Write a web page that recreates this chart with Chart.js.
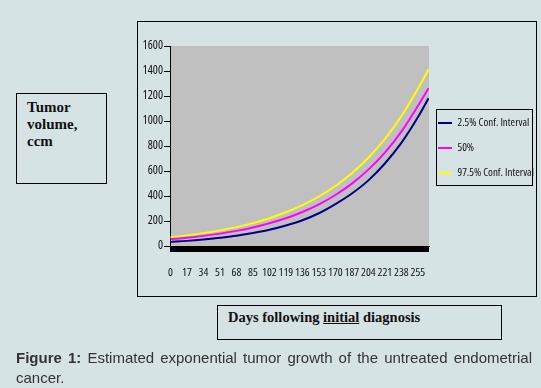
<!DOCTYPE html>
<html><head><meta charset="utf-8">
<script src="https://cdn.jsdelivr.net/npm/chart.js@4"></script>
<style>
html,body{margin:0;padding:0;}
body{width:541px;height:388px;background:#d5e3e4;position:relative;overflow:hidden;font-family:"Liberation Sans",Arial,sans-serif;}
.box{position:absolute;border:1px solid #000;box-sizing:border-box;}
#frame{left:137px;top:21px;width:400px;height:276px;}
#ylab{left:16px;top:93px;width:91px;height:91px;border-width:1.5px;font:bold 15px "Liberation Serif","Times New Roman",serif;line-height:17px;padding:5px 0 0 10px;color:#111;}
#xlab{left:217px;top:305px;width:285px;height:35px;border-width:1.5px;font:bold 14.5px "Liberation Serif","Times New Roman",serif;padding:3px 0 0 10px;color:#111;white-space:nowrap;}
#legbox{left:436px;top:109px;width:97px;height:77px;}
.cap{position:absolute;left:16px;width:516px;font-size:15px;line-height:20px;color:#333;white-space:nowrap;}
#cap1{top:348px;text-align:justify;text-align-last:justify;}
#cap2{top:368px;}
canvas{position:absolute;left:0;top:0;}
</style></head>
<body>
<div id="frame" class="box"></div>
<div id="ylab" class="box">Tumor<br>volume,<br>ccm</div>
<div id="xlab" class="box">Days following <u>initial</u> diagnosis</div>
<div id="legbox" class="box"></div>
<canvas id="c" width="541" height="388"></canvas>
<div id="cap1" class="cap" style="white-space:normal"><b>Figure 1:</b> Estimated exponential tumor growth of the untreated endometrial</div>
<div id="cap2" class="cap">cancer.</div>
<script>
// ---- data ----
const days   = [0, 17, 34, 51, 68, 85, 102, 119, 136, 153, 170, 187, 204, 221, 238, 255, 266];
const lower  = [33, 41, 52, 66, 82, 104, 130, 164, 206, 262, 335, 420, 525, 660, 825, 1030, 1182];
const median = [54, 66, 81, 99, 121, 148, 182, 222, 272, 333, 408, 499, 611, 747, 915, 1120, 1262];
const upper  = [70, 85, 103, 125, 151, 183, 222, 270, 327, 396, 480, 582, 706, 856, 1038, 1258, 1412];
const seriesNames = ['2.5% Conf. Interval', '50%', '97.5% Conf. Interval'];
const xTickLabels = [0, 17, 34, 51, 68, 85, 102, 119, 136, 153, 170, 187, 204, 221, 238, 255];
const yTickLabels = [0, 200, 400, 600, 800, 1000, 1200, 1400, 1600];
const lastDay = 266;

const narrowFont = size => ({family: '"Open Sans", "Roboto Condensed", sans-serif', weight: 'condensed', size: size});
const pts = arr => days.map((d, i) => ({x: d, y: arr[i]}));

const plotBg = {
  id: 'plotBg',
  beforeDraw(chart) {
    const {ctx, chartArea: a} = chart;
    ctx.save();
    ctx.fillStyle = '#c0c0c0';
    ctx.fillRect(a.left, a.top, a.right - a.left, a.bottom - a.top);
    ctx.restore();
  }
};
const LEG_PAD = 14;
const legendShift = {
  id: 'legendShift',
  afterLayout(chart) {
    const l = chart.legend;
    if (!l) return;
    const dx = 438 - (chart.chartArea.right + LEG_PAD);
    const dy = 2;
    l.left += dx; l.right += dx; l.top += dy; l.bottom += dy;
  }
};

new Chart(document.getElementById('c'), {
  type: 'line',
  data: {
    datasets: [
      {label: seriesNames[0], data: pts(lower), borderColor: '#000080', backgroundColor: '#000080'},
      {label: seriesNames[1], data: pts(median), borderColor: '#ff00ff', backgroundColor: '#ff00ff'},
      {label: seriesNames[2], data: pts(upper), borderColor: '#ffff00', backgroundColor: '#ffff00'}
    ].map(d => Object.assign(d, {borderWidth: 2, pointRadius: 0, tension: 0.4, cubicInterpolationMode: 'monotone', fill: false}))
  },
  options: {
    responsive: false,
    animation: false,
    devicePixelRatio: 1,
    layout: {padding: {left: 136, top: 46, right: 0, bottom: 102}},
    plugins: {
      tooltip: {enabled: false},
      legend: {
        position: 'right',
        fullSize: false,
        maxWidth: 112,
        labels: {boxWidth: 14, boxHeight: 0, padding: LEG_PAD, color: '#111', font: narrowFont(11)}
      }
    },
    scales: {
      x: {
        type: 'linear',
        min: -0.5,
        max: lastDay + 0.5,
        afterBuildTicks: s => { const t = []; for (let i = 0; i <= lastDay; i++) t.push({value: i}); s.ticks = t; },
        afterFit: s => { s.height = 40; },
        ticks: {
          autoSkip: false, maxRotation: 0, minRotation: 0, padding: 14,
          color: '#111', font: narrowFont(11.5),
          callback: v => xTickLabels.includes(v) ? String(v) : ''
        },
        grid: {drawOnChartArea: false, drawTicks: true, tickLength: 6, color: '#000', lineWidth: 1},
        border: {color: '#000', width: 1}
      },
      y: {
        type: 'linear',
        min: 0,
        max: 1600,
        afterBuildTicks: s => { s.ticks = yTickLabels.map(v => ({value: v})); },
        afterFit: s => { s.width = 34; },
        ticks: {padding: 1, color: '#111', font: narrowFont(12), callback: v => String(v)},
        grid: {drawOnChartArea: false, drawTicks: true, tickLength: 6, color: '#000', lineWidth: 1},
        border: {color: '#000', width: 1}
      }
    }
  },
  plugins: [plotBg, legendShift]
});
</script>
</body></html>
